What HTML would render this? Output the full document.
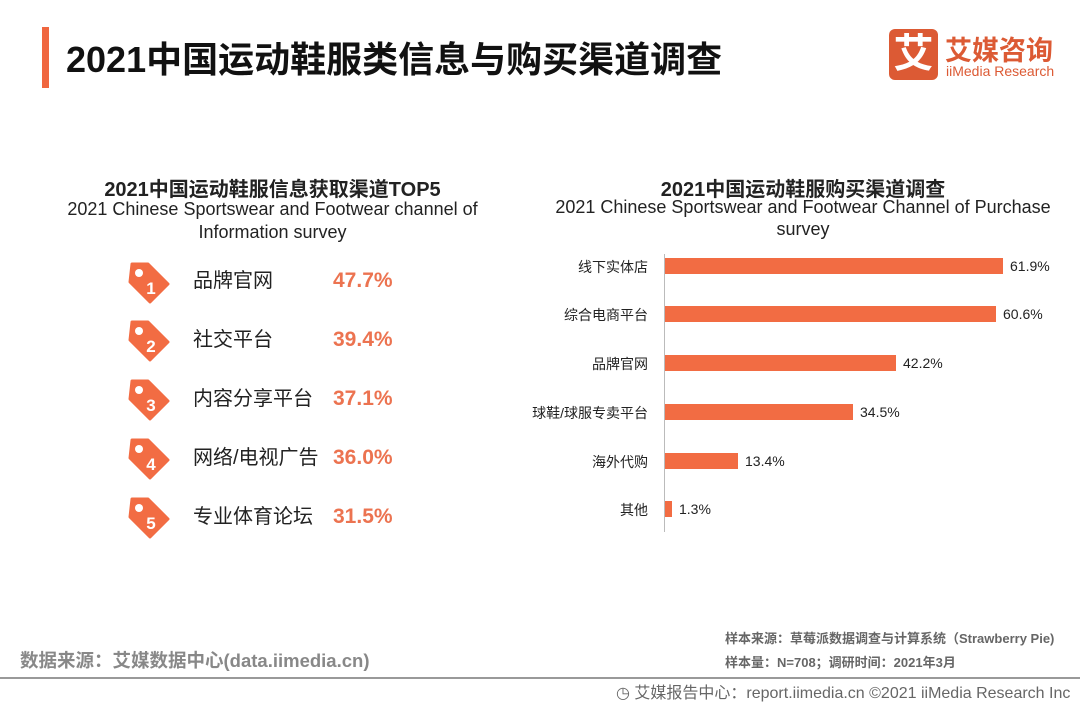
<!DOCTYPE html>
<html><head><meta charset="utf-8"><style>
body{margin:0;width:1080px;height:702px;background:#fff;position:relative;overflow:hidden;font-family:"Liberation Sans","Noto Sans CJK SC",sans-serif;color:#222}
.a{position:absolute;white-space:nowrap}
.tag{position:absolute;left:128px;width:42px;height:42px}
.lab{font-size:20px;color:#222;left:193px;line-height:26px}
.pct{font-size:21px;color:#ec7350;left:333px;line-height:26px;font-weight:bold}
.bar{position:absolute;left:665px;height:16px;background:#f26c43}
.cl{position:absolute;right:432px;font-size:14px;color:#222;text-align:right}
.bv{position:absolute;font-size:14px;color:#222}
</style></head><body>
<div class="a" style="left:42px;top:27px;width:7px;height:61px;background:#f0663f"></div>
<div class="a" style="left:66px;top:31px;font-size:36px;font-weight:bold;color:#111">2021中国运动鞋服类信息与购买渠道调查</div>
<div class="a" style="left:889px;top:29px;width:49px;height:51px;background:#dc5a34;border-radius:6px;color:#fff;font-size:40px;font-weight:bold;text-align:center;line-height:50px">艾</div>
<div class="a" style="left:945px;top:29px;font-size:27px;font-weight:bold;color:#dc5a34">艾媒咨询</div>
<div class="a" style="left:946px;top:63px;font-size:14px;color:#dc5a34">iiMedia Research</div>

<div class="a" style="left:0;width:545px;top:173px;text-align:center;font-size:20px;font-weight:bold">2021中国运动鞋服信息获取渠道TOP5</div>
<div class="a" style="left:0;width:545px;top:198px;text-align:center;font-size:18px;line-height:23px;white-space:normal">2021 Chinese Sportswear and Footwear channel of<br>Information survey</div>

<div class="a" style="left:530px;width:546px;top:173px;text-align:center;font-size:20px;font-weight:bold">2021中国运动鞋服购买渠道调查</div>
<div class="a" style="left:530px;width:546px;top:196px;text-align:center;font-size:18px;line-height:22px">2021 Chinese Sportswear and Footwear Channel of Purchase<br>survey</div>

<svg width="0" height="0" style="position:absolute"><defs><g id="t"><path d="M4 2 L20 2 L40 22 L22 40 L2 20 Z" fill="#f26c43" stroke="#f26c43" stroke-width="3" stroke-linejoin="round"/><circle cx="11" cy="11" r="4" fill="#fff"/></g></defs></svg>
<svg class="tag" style="top:262px"><use href="#t"/><text x="23" y="32" fill="#fff" font-size="17" font-weight="bold" text-anchor="middle" font-family="Liberation Sans">1</text></svg>
<svg class="tag" style="top:320px"><use href="#t"/><text x="23" y="32" fill="#fff" font-size="17" font-weight="bold" text-anchor="middle" font-family="Liberation Sans">2</text></svg>
<svg class="tag" style="top:379px"><use href="#t"/><text x="23" y="32" fill="#fff" font-size="17" font-weight="bold" text-anchor="middle" font-family="Liberation Sans">3</text></svg>
<svg class="tag" style="top:438px"><use href="#t"/><text x="23" y="32" fill="#fff" font-size="17" font-weight="bold" text-anchor="middle" font-family="Liberation Sans">4</text></svg>
<svg class="tag" style="top:497px"><use href="#t"/><text x="23" y="32" fill="#fff" font-size="17" font-weight="bold" text-anchor="middle" font-family="Liberation Sans">5</text></svg>
<div class="a lab" style="top:268px">品牌官网</div><div class="a pct" style="top:268px">47.7%</div>
<div class="a lab" style="top:327px">社交平台</div><div class="a pct" style="top:327px">39.4%</div>
<div class="a lab" style="top:386px">内容分享平台</div><div class="a pct" style="top:386px">37.1%</div>
<div class="a lab" style="top:445px">网络/电视广告</div><div class="a pct" style="top:445px">36.0%</div>
<div class="a lab" style="top:504px">专业体育论坛</div><div class="a pct" style="top:504px">31.5%</div>

<div class="a" style="left:664px;top:254px;width:1px;height:278px;background:#bbb"></div>
<div class="bar" style="top:258px;width:338px"></div><div class="cl" style="top:257px">线下实体店</div><div class="bv" style="left:1010px;top:258px">61.9%</div>
<div class="bar" style="top:306px;width:331px"></div><div class="cl" style="top:305px">综合电商平台</div><div class="bv" style="left:1003px;top:306px">60.6%</div>
<div class="bar" style="top:355px;width:231px"></div><div class="cl" style="top:354px">品牌官网</div><div class="bv" style="left:903px;top:355px">42.2%</div>
<div class="bar" style="top:404px;width:188px"></div><div class="cl" style="top:403px">球鞋/球服专卖平台</div><div class="bv" style="left:860px;top:404px">34.5%</div>
<div class="bar" style="top:453px;width:73px"></div><div class="cl" style="top:452px">海外代购</div><div class="bv" style="left:745px;top:453px">13.4%</div>
<div class="bar" style="top:501px;width:7px"></div><div class="cl" style="top:500px">其他</div><div class="bv" style="left:679px;top:501px">1.3%</div>

<div class="a" style="left:20px;top:647px;font-size:18.5px;color:#888;font-weight:bold">数据来源：艾媒数据中心(data.iimedia.cn)</div>
<div class="a" style="left:725px;top:628px;font-size:13px;color:#666;font-weight:bold">样本来源：草莓派数据调查与计算系统（Strawberry Pie)</div>
<div class="a" style="left:725px;top:652px;font-size:13px;color:#666;font-weight:bold">样本量：N=708；调研时间：2021年3月</div>
<div class="a" style="left:0;top:677px;width:1080px;height:2px;background:#999"></div>
<div class="a" style="left:616px;top:679px;font-size:16px;color:#666">◷ 艾媒报告中心：report.iimedia.cn  ©2021  iiMedia Research  Inc</div>
</body></html>
